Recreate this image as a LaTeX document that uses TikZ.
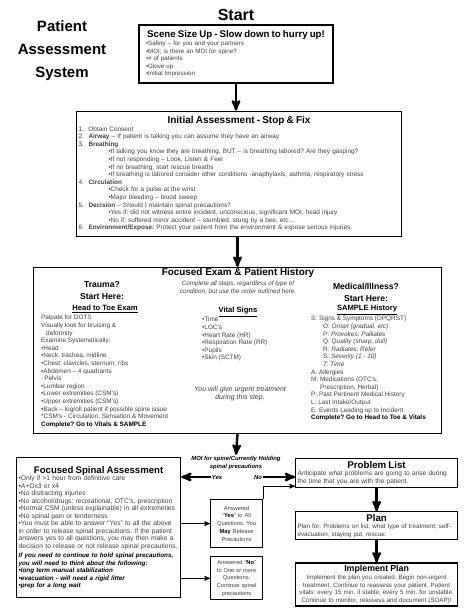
\documentclass[tikz,border=0pt]{standalone}
\usepackage{fontspec}
\setmainfont{Liberation Sans}
\usetikzlibrary{arrows,positioning}

\newcommand{\bodyfont}{\fontsize{6.4}{7.6}\selectfont}
\newcommand{\boxhead}[2]{{\centering\color{black}\bfseries\fontsize{#1}{#1}\selectfont #2\par}}
\newcommand{\numitm}[1]{\makebox[10pt][l]{#1}}
\newcommand{\subitm}{\hspace*{30pt}\textbullet}
\frenchspacing

\begin{document}
\begin{tikzpicture}[x=1pt,y=-1pt,>=stealth',
    box/.style={draw,line width=1.2pt,inner xsep=2pt,inner ysep=1pt,align=left,
                font=\bodyfont,text=black!75},
    smallbox/.style={box,align=center,font=\fontsize{5.7}{7.7}\selectfont},
    flow/.style={->,line width=2.4pt},
    link/.style={->,line width=1pt},
    heading/.style={font=\fontsize{15}{23}\selectfont\bfseries,align=center},
    colhead/.style={font=\fontsize{8.6}{12}\selectfont\bfseries,align=center},
    subhead/.style={font=\fontsize{7.6}{8}\selectfont\bfseries,inner sep=0pt},
    note/.style={font=\fontsize{6.3}{7.8}\selectfont\itshape,align=center,text=black!75,inner sep=0pt},
    list/.style={font=\bodyfont,align=left,text=black!75,inner sep=0pt,anchor=north west},
    moi/.style={font=\fontsize{5.9}{8.5}\selectfont\bfseries\itshape,align=center,inner sep=1pt}]

  \useasboundingbox (0,0) rectangle (474,613);

  \node[heading] (system) at (62,51) {Patient\\Assessment\\System};
  \node[font=\fontsize{16}{16}\selectfont\bfseries] (start) at (236,15) {Start};

  % main column
  \node[box,text width=186pt,inner xsep=4pt,minimum height=58pt,font=\fontsize{6.2}{7.6}\selectfont] (scene) at (236,54)
    {\boxhead{9.7}{Scene Size Up - Slow down to hurry up!}
     \hspace*{3pt}\textbullet Safety – for you and your partners\\
     \hspace*{3pt}\textbullet MOI; is there an MOI for spine?\\
     \hspace*{3pt}\textbullet\# of patients\\
     \hspace*{3pt}\textbullet Glove up\\
     \hspace*{3pt}\textbullet Initial Impression};

  \node[box,text width=321pt,minimum height=125pt,below=27pt of scene,xshift=3pt] (initial)
    {\boxhead{10}{Initial Assessment - Stop \& Fix}
     \numitm{1.}Obtain Consent\\
     \numitm{2.}\textbf{Airway} – If patient is talking you can assume they have an airway\\
     \numitm{3.}\textbf{Breathing}\\
     \subitm If talking you know they are breathing, BUT – is breathing labored? Are they gasping?\\
     \subitm If not responding – Look, Listen \& Feel\\
     \subitm If no breathing, start rescue breaths\\
     \subitm If breathing is labored consider other conditions -anaphylaxis, asthma, respiratory stress\\
     \numitm{4.}\textbf{Circulation}\\
     \subitm Check for a pulse at the wrist\\
     \subitm Major bleeding – blood sweep\\
     \numitm{5.}\textbf{Decision} – Should I maintain spinal precautions?\\
     \subitm Yes if: did not witness entire incident, unconscious, significant MOI, head injury\\
     \subitm No if: suffered minor accident – stumbled, stung by a bee, etc…\\
     \numitm{6.}\textbf{Environment/Expose:} Protect your patient from the environment \& expose serious injuries.};

  \node[box,minimum width=408pt,minimum height=166pt,below=30pt of initial,xshift=-1.5pt] (exam) {};

  \node[font=\fontsize{9.9}{9.9}\selectfont\bfseries] (examtitle) at (238,273) {Focused Exam \& Patient History};
  \node[note] (examnote) at (238,288) {Complete all steps, regardless of type of\\condition, but use the order outlined here.};

  % trauma column
  \node[colhead] (trauma) at (102,291) {Trauma?\\Start Here:};
  \node[subhead] (toehead) at (105,309) {\underline{Head to Toe Exam}};
  \node[list] (toe) at (41,315)
    {Palpate for DOTS\\
     Visually look for bruising \&\\
     \hspace*{5pt}deformity\\
     Examine Systematically:\\
     \textbullet Head\\
     \textbullet Neck: trachea, midline\\
     \textbullet Chest: clavicles, sternum, ribs\\
     \textbullet Abdomen – 4 quadrants\\
     ·\,Pelvis\\
     \textbullet Lumbar region\\
     \textbullet Lower extremities (CSM’s)\\
     \textbullet Upper extremities (CSM’s)\\
     \textbullet Back – logroll patient if possible spine issue\\
     *CSM’s - Circulation, Sensation \& Movement\\
     \textbf{\color{black}Complete? Go to Vitals \& SAMPLE}};

  % vitals column
  \node[subhead] (vitalhead) at (238,312) {\underline{Vital Signs}};
  \node[list] (vitals) at (202,317)
    {\textbullet Time\\ \textbullet LOC’s\\ \textbullet Heart Rate (HR)\\
     \textbullet Respiration Rate (RR)\\ \textbullet Pupils\\ \textbullet Skin (SCTM)};
  \node[note,font=\fontsize{7}{8}\selectfont\itshape] (urgent) at (240,394) {You will give urgent treatment\\during this step.};

  % medical column
  \node[colhead] (medical) at (366,292) {Medical/Illness?\\Start Here:};
  \node[subhead] (samplehead) at (367,310) {\underline{SAMPLE History}};
  \node[list] (sample) at (311,316)
    {S: Signs \& Symptoms (OPQRST)\\
     \hspace*{12pt}O: \textit{Onset (gradual, etc)}\\
     \hspace*{12pt}P: \textit{Provokes; Palliates}\\
     \hspace*{12pt}Q: \textit{Quality (sharp, dull)}\\
     \hspace*{12pt}R: \textit{Radiates; Refer}\\
     \hspace*{12pt}S: \textit{Severity (1 - 10)}\\
     \hspace*{12pt}\textit{T: Time}\\
     A: Allergies\\
     M: Medications (OTC’s,\\
     \hspace*{9pt}Prescription, Herbal)\\
     P: Past Pertinent Medical History\\
     L: Last Intake/Output\\
     E: Events Leading up to Incident\\
     \textbf{\color{black}Complete? Go to Head to Toe \& Vitals}};

  % spine decision
  \node[moi] (moi) at (236,463) {MOI for spine/Currently Holding\\spinal precautions};
  \node[moi] (yes) at (217,477) {Yes};
  \node[moi] (no) at (258,477) {No};

  \node[box,text width=160pt,minimum height=140pt,anchor=north west,font=\fontsize{6.7}{7.5}\selectfont] (spinal) at (16,457)
    {\boxhead{9.6}{Focused Spinal Assessment}
     \textbullet Only if >1 hour from definitive care\\
     \textbullet A+Ox3 or x4\\
     \textbullet No distracting injuries\\
     \textbullet No alcohol/drugs: recreational, OTC’s, prescription\\
     \textbullet Normal CSM (unless explainable) in all extremeties\\
     \textbullet No spinal pain or tenderness\\
     \textbullet You must be able to answer ``Yes'' to all the above\\
     in order to release spinal precautions. If the patient\\
     answers yes to all questions, you may then make a\\
     decision to release or not release spinal precautions.\\[2pt]
     {\color{black}\bfseries\itshape\fontsize{6.3}{7.5}\selectfont If you need to continue to hold spinal precautions,\\
     you will need to think about the following:\\
     \textbullet long term manual stabilization\\
     \textbullet evacuation - will need a rigid litter\\
     \textbullet prep for a long wait}};

  \node[smallbox,text width=48pt,minimum height=48pt,anchor=north west] (yesbox) at (210,499)
    {Answered\\``\textbf{\color{black}Yes}'' to All\\Questions. You\\\textbf{\color{black}May} Release\\Precautions};
  \node[smallbox,text width=48pt,minimum height=43pt,below=8pt of yesbox] (nobox)
    {Answered ``\textbf{\color{black}No}''\\to One or more\\Questions.\\Continue spinal\\precautions};

  % plan column
  \node[box,text width=158pt,minimum height=29pt,anchor=north west,font=\fontsize{6.6}{7.2}\selectfont] (plist) at (295,458)
    {\boxhead{9.7}{Problem List}
     Anticipate what problems are going to arise during\\the time that you are with the patient.};
  \node[box,text width=158pt,minimum height=28pt,below=23pt of plist,font=\fontsize{6.25}{7.6}\selectfont] (plan)
    {\boxhead{9.7}{Plan}
     Plan for: Problems on list; what type of treatment; self-\\evacuation, staying put, rescue.};
  \node[box,text width=158pt,minimum height=43pt,below=22pt of plan,align=center,font=\fontsize{6.2}{7.8}\selectfont] (impl)
    {\boxhead{8.8}{Implement Plan}
     Implement the plan you created. Begin non-urgent\\
     treatment. Continue to reassess your patient. Patient\\
     vitals: every 15 min. if stable, every 5 min. for unstable.\\
     Continue to monitor, reassess and document (SOAP)!};

  % connectors
  \draw[flow] (scene.south) -- (scene.south |- initial.north);
  \draw[flow] (initial.south -| exam.north) -- (exam.north);
  \draw[flow] (exam.south) -- (moi.north);
  \draw[flow] (yes.west) -- (spinal.east |- yes.west);
  \draw[flow] (no.east) -- (plist.west |- no.east);
  \draw[link] (spinal.east |- yesbox.west) -- (yesbox.west);
  \draw[link] (spinal.east |- nobox.west) -- (nobox.west);
  \draw[link] (yesbox.north east) |- ([yshift=2pt]plist.south west);
  \draw[flow] (plist) -- (plan);
  \draw[flow] (plan) -- (impl);
\end{tikzpicture}
\end{document}
